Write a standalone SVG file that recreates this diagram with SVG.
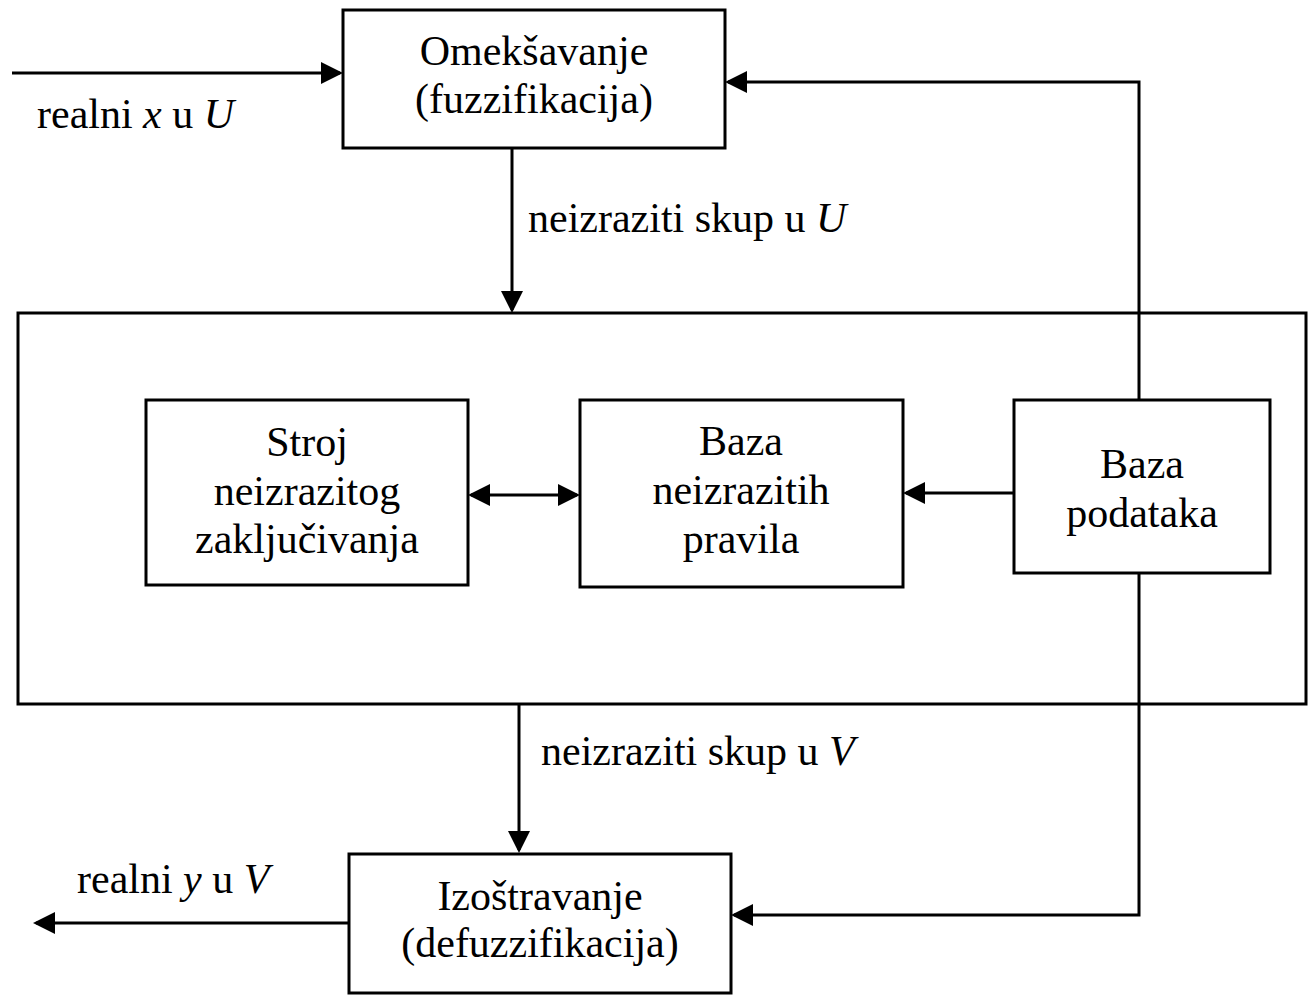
<svg xmlns="http://www.w3.org/2000/svg" width="1308" height="1000" viewBox="0 0 1308 1000">
<style>
.box{fill:#fff;stroke:#000;stroke-width:3}
.c{fill:none;stroke:#000;stroke-width:3}
text{font-family:"Liberation Serif","Times New Roman",serif;font-size:42px;fill:#000}
.m{text-anchor:middle}
.i{font-style:italic}
</style>
<defs>
<marker id="ah" viewBox="0 0 22 22" refX="19" refY="11" markerWidth="22" markerHeight="22" markerUnits="userSpaceOnUse" orient="auto-start-reverse">
<path d="M0,0 L22,11 L0,22 z" fill="#000"/>
</marker>
</defs>
<rect width="1308" height="1000" fill="#fff"/>
<g id="system">
<rect class="box" x="18" y="313" width="1288" height="391"/>
</g>
<g id="connectors">
<line class="c" x1="12" y1="73" x2="340" y2="73" marker-end="url(#ah)"/>
<line class="c" x1="512" y1="148" x2="512" y2="310" marker-end="url(#ah)"/>
<polyline class="c" points="1139,400 1139,82 728,82" marker-end="url(#ah)"/>
<line class="c" x1="471" y1="495" x2="577" y2="495" marker-start="url(#ah)" marker-end="url(#ah)"/>
<line class="c" x1="1014" y1="493" x2="906" y2="493" marker-end="url(#ah)"/>
<line class="c" x1="519" y1="704" x2="519" y2="850" marker-end="url(#ah)"/>
<polyline class="c" points="1139,573 1139,915 734,915" marker-end="url(#ah)"/>
<line class="c" x1="349" y1="923" x2="36" y2="923" marker-end="url(#ah)"/>
</g>
<g id="fuzzifikacija">
<rect class="box" x="343" y="10" width="382" height="138"/>
<text class="m" x="534" y="65">Omekšavanje</text>
<text class="m" x="534" y="113">(fuzzifikacija)</text>
</g>
<g id="stroj">
<rect class="box" x="146" y="400" width="322" height="185"/>
<text class="m" x="307" y="456">Stroj</text>
<text class="m" x="307" y="505">neizrazitog</text>
<text class="m" x="307" y="553">zaključivanja</text>
</g>
<g id="baza-pravila">
<rect class="box" x="580" y="400" width="323" height="187"/>
<text class="m" x="741" y="455">Baza</text>
<text class="m" x="741" y="504">neizrazitih</text>
<text class="m" x="741" y="553">pravila</text>
</g>
<g id="baza-podataka">
<rect class="box" x="1014" y="400" width="256" height="173"/>
<text class="m" x="1142" y="478">Baza</text>
<text class="m" x="1142" y="527">podataka</text>
</g>
<g id="defuzzifikacija">
<rect class="box" x="349" y="854" width="382" height="139"/>
<text class="m" x="540" y="910">Izoštravanje</text>
<text class="m" x="540" y="957">(defuzzifikacija)</text>
</g>
<g id="labels">
<text x="37" y="128">realni <tspan class="i">x</tspan> u <tspan class="i">U</tspan></text>
<text x="528" y="232">neizraziti skup u <tspan class="i">U</tspan></text>
<text x="541" y="765">neizraziti skup u <tspan class="i">V</tspan></text>
<text x="77" y="893">realni <tspan class="i">y</tspan> u <tspan class="i">V</tspan></text>
</g>
</svg>
